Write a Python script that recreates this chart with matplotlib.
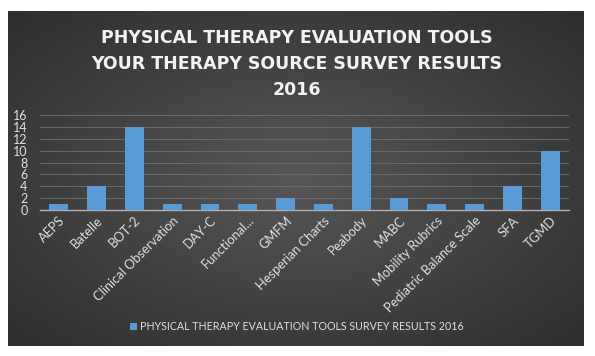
import numpy as np
import matplotlib.pyplot as plt

# chart data
tools = ["AEPS", "Batelle", "BOT-2", "Clinical Observation", "DAY-C", "Functional...",
         "GMFM", "Hesperian Charts", "Peabody", "MABC", "Mobility Rubrics",
         "Pediatric Balance Scale", "SFA", "TGMD"]
counts = [1, 4, 14, 1, 1, 1, 2, 1, 14, 2, 1, 1, 4, 10]
yticks = [0, 2, 4, 6, 8, 10, 12, 14, 16]
title = "PHYSICAL THERAPY EVALUATION TOOLS\nYOUR THERAPY SOURCE SURVEY RESULTS\n2016"
series_name = "PHYSICAL THERAPY EVALUATION TOOLS SURVEY RESULTS 2016"

W, H = 595, 356
fig = plt.figure(figsize=(W / 100, H / 100), dpi=100)
fig.patch.set_facecolor("white")

# dark panel with a soft radial gradient
left, right, top, bottom = 8 / W, 584 / W, 1 - 11 / H, 1 - 346 / H
bg = fig.add_axes([left, bottom, right - left, top - bottom])
yy, xx = np.mgrid[-1:1:200j, -1:1:300j]
r = np.sqrt(xx ** 2 + yy ** 2) / np.sqrt(2)
shade = 0.34 - 0.16 * r
bg.imshow(np.dstack([shade] * 3), aspect="auto", extent=[0, 1, 0, 1])
bg.set_axis_off()

# title
fig.text(297 / W, 1 - 64 / H, title, ha="center", va="center", color="#f2f2f2",
         fontsize=12.5, fontweight="bold", linespacing=1.55, family="DejaVu Sans")

# bar axes
ax = fig.add_axes([40 / W, 1 - 210 / H, (569 - 40) / W, (210 - 115) / H])
ax.patch.set_alpha(0)
x = np.arange(len(tools))
ax.bar(x, counts, width=0.5, color="#5b9bd5", zorder=3,
       label=series_name)
ax.set_xlim(-0.5, len(tools) - 0.5)
ax.set_ylim(0, 16)
ax.set_yticks(yticks)
ax.yaxis.grid(True, color="#6a6a6a", linewidth=0.7, zorder=0)
for s in ["top", "right", "left"]:
    ax.spines[s].set_visible(False)
ax.spines["bottom"].set_color("#b0b0b0")
ax.spines["bottom"].set_linewidth(1.0)
ax.tick_params(axis="both", length=0, colors="#e0e0e0", labelsize=9)
ax.tick_params(axis="y", pad=9)
ax.tick_params(axis="x", pad=3)
ax.set_xticks(x)
ax.set_xticklabels(tools, rotation=45, ha="right", rotation_mode="anchor",
                   family="Lato", fontsize=9.3)
for lbl in ax.get_yticklabels():
    lbl.set_family("Lato")

leg = ax.legend(loc="center", bbox_to_anchor=(297 / W, 1 - 327 / H),
                bbox_transform=fig.transFigure, frameon=False,
                prop={"family": "Lato", "size": 7.7},
                handlelength=0.6, handleheight=0.6, handletextpad=0.3)
for t in leg.get_texts():
    t.set_color("#e0e0e0")

plt.savefig("out.png", dpi=100, facecolor="white")
